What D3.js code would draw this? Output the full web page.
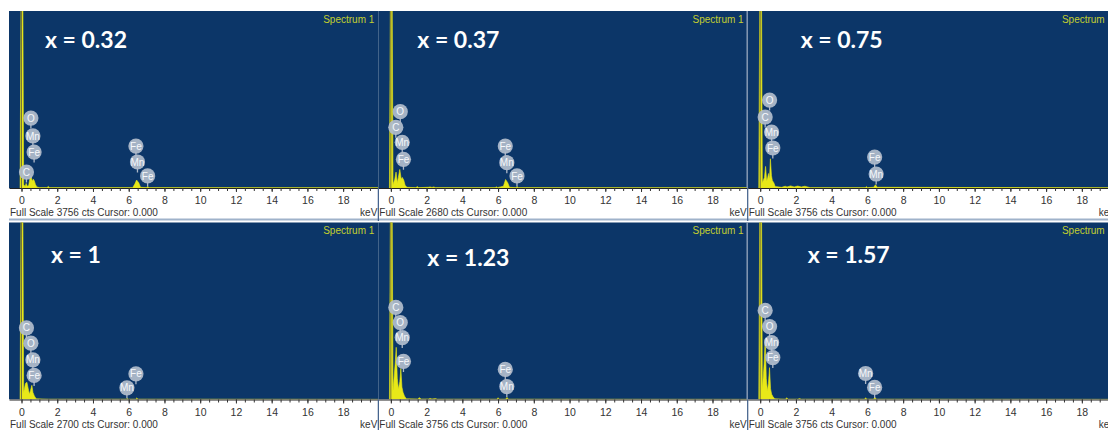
<!DOCTYPE html>
<html>
<head>
<meta charset="utf-8">
<script src="https://cdn.jsdelivr.net/npm/d3@7"></script>
<style>
    body { margin: 0; background: #fff; }
</style>
</head>
<body>
<div id="chart"></div>
<script>

// composition of each panel and the full scale counts shown under the axis
var panelNames = ["x = 0.32", "x = 0.37", "x = 0.75", "x = 1", "x = 1.23", "x = 1.57"];
var fullScale = [3756, 2680, 3756, 2700, 3756, 3756];
var tickLabels = [0, 2, 4, 6, 8, 10, 12, 14, 16, 18];

// spectra: [keV, fraction of full scale]
var spectrum1 = [[-0.08,0],[-0.02,1.2],[0.07,1.2],[0.12,0.02],[0.2,0.008],[0.26,0.026],[0.32,0.01],[0.4,0.014],[0.47,0.055],[0.53,0.07],[0.6,0.038],[0.66,0.05],[0.72,0.04],[0.78,0.02],[0.86,0.006],[1.0,0.002],[1.42,0.002],[1.5,0.009],[1.58,0.002],[6.22,0.002],[6.34,0.022],[6.44,0.045],[6.56,0.03],[6.66,0.004],[6.98,0.002],[7.06,0.008],[7.14,0.002],[19.97,0.001]];
var spectrum2 = [[-0.08,0],[-0.02,1.2],[0.07,1.2],[0.12,0.02],[0.22,0.05],[0.29,0.09],[0.36,0.03],[0.42,0.06],[0.5,0.105],[0.58,0.05],[0.64,0.06],[0.72,0.045],[0.8,0.015],[0.9,0.004],[1.4,0.002],[1.48,0.008],[1.56,0.002],[2.1,0.004],[2.2,0.006],[2.3,0.003],[2.4,0.006],[2.5,0.002],[5.84,0.002],[5.9,0.007],[5.96,0.002],[6.3,0.01],[6.42,0.048],[6.54,0.03],[6.64,0.004],[7.0,0.002],[7.06,0.008],[7.12,0.002],[19.97,0.001]];
var spectrum3 = [[-0.08,0],[-0.02,1.2],[0.07,1.2],[0.12,0.03],[0.24,0.06],[0.3,0.122],[0.36,0.04],[0.42,0.06],[0.47,0.082],[0.52,0.05],[0.57,0.165],[0.63,0.07],[0.68,0.042],[0.76,0.03],[0.84,0.008],[1.2,0.004],[1.4,0.01],[1.5,0.006],[1.7,0.012],[1.9,0.006],[2.1,0.011],[2.3,0.006],[2.5,0.01],[2.8,0.002],[5.88,0.002],[5.94,0.008],[6.0,0.002],[6.35,0.004],[6.45,0.018],[6.55,0.004],[19.97,0.001]];
var spectrum4 = [[-0.08,0],[-0.02,1.2],[0.07,1.2],[0.12,0.04],[0.22,0.09],[0.3,0.098],[0.38,0.06],[0.44,0.03],[0.5,0.05],[0.58,0.08],[0.64,0.04],[0.72,0.02],[0.82,0.004],[1.5,0.002],[5.86,0.002],[5.92,0.006],[5.98,0.002],[6.38,0.002],[6.45,0.009],[6.52,0.002],[19.97,0.001]];
var spectrum5 = [[-0.08,0],[-0.02,1.2],[0.07,1.2],[0.12,0.05],[0.24,0.2],[0.3,0.295],[0.36,0.12],[0.42,0.06],[0.5,0.1],[0.56,0.175],[0.62,0.07],[0.68,0.041],[0.76,0.02],[0.86,0.004],[1.5,0.003],[1.6,0.01],[1.7,0.003],[2.1,0.003],[2.2,0.006],[2.3,0.003],[2.5,0.005],[2.6,0.002],[5.94,0.002],[6.0,0.01],[6.06,0.002],[6.42,0.002],[6.5,0.012],[6.58,0.002],[19.97,0.001]];
var spectrum6 = [[-0.08,0],[-0.02,1.2],[0.07,1.2],[0.12,0.06],[0.22,0.2],[0.28,0.343],[0.34,0.12],[0.4,0.05],[0.46,0.09],[0.52,0.18],[0.58,0.06],[0.64,0.03],[0.72,0.015],[0.82,0.004],[1.42,0.002],[1.48,0.01],[1.56,0.002],[2.1,0.002],[2.2,0.005],[2.3,0.002],[5.84,0.002],[5.9,0.01],[5.96,0.002],[6.34,0.002],[6.42,0.012],[6.5,0.002],[19.97,0.001]];

// peak labels: [element, keV, height as fraction of full scale]
var labels1 = [["O",0.525,0.395],["Mn",0.637,0.294],["Fe",0.705,0.203],["C",0.277,0.09],["Fe",6.404,0.237],["Mn",6.49,0.147],["Fe",7.058,0.068]];
var labels2 = [["O",0.525,0.431],["C",0.277,0.343],["Mn",0.637,0.258],["Fe",0.705,0.162],["Fe",6.404,0.237],["Mn",6.49,0.143],["Fe",7.058,0.068]];
var labels3 = [["O",0.525,0.497],["C",0.277,0.401],["Mn",0.637,0.316],["Fe",0.705,0.226],["Fe",6.404,0.175],["Mn",6.49,0.079]];
var labels4 = [["C",0.277,0.405],["O",0.525,0.318],["Mn",0.637,0.224],["Fe",0.705,0.136],["Fe",6.404,0.145],["Mn",5.899,0.066]];
var labels5 = [["C",0.277,0.52],["O",0.525,0.435],["Mn",0.637,0.35],["Fe",0.705,0.215],["Fe",6.404,0.17],["Mn",6.49,0.073]];
var labels6 = [["C",0.277,0.503],["O",0.525,0.412],["Mn",0.637,0.322],["Fe",0.705,0.237],["Mn",5.899,0.147],["Fe",6.404,0.068]];

var spectra = [spectrum1, spectrum2, spectrum3, spectrum4, spectrum5, spectrum6];
var peakLabels = [labels1, labels2, labels3, labels4, labels5, labels6];

// layout only
var svgWidth = 1108;
var svgHeight = 430;
var panelW = 369.35;
var plotH = 177;
var axisH = 33;
var rowTop = [11, 222.5];
var titlePos = [[36, 36.7], [39, 36.7], [53, 36.7], [42, 40.2], [49, 43.5], [60, 40.5]];

var svg = d3.select("#chart").append("svg")
    .attr("width", svgWidth)
    .attr("height", svgHeight)
    .style("display", "block")
    .style("font-family", "Arial, 'Liberation Sans', sans-serif");

var x = d3.scaleLinear().domain([-0.7, 19.97]).range([0, panelW]);
var y = d3.scaleLinear().domain([0, 1]).range([plotH, 0]);

var area = d3.area()
    .x(function(d) { return x(d[0]); })
    .y0(y(0))
    .y1(function(d) { return y(d[1]); });

var minorTicks = d3.range(0, 20, 0.5);

function drawPanel(i) {
    var col = i % 3;
    var row = Math.floor(i / 3);
    var left = 9 + col * panelW;
    var top = rowTop[row];

    var g = svg.append("g")
        .attr("transform", "translate(" + left + "," + top + ")");

    g.append("clipPath").attr("id", "clip" + i)
        .append("rect").attr("width", panelW).attr("height", plotH);

    g.append("rect")
        .attr("width", panelW)
        .attr("height", plotH)
        .attr("fill", "#0c3668");

    var plot = g.append("g").attr("clip-path", "url(#clip" + i + ")");

    plot.append("path")
        .datum(spectra[i])
        .attr("d", area)
        .attr("fill", "#e8e818")
        .attr("stroke", "#e8e818")
        .attr("stroke-width", 0.6);

    // cursor at 0.000 keV
    plot.append("line")
        .attr("x1", x(0)).attr("x2", x(0))
        .attr("y1", 0).attr("y2", plotH)
        .attr("stroke", "#76763a")
        .attr("stroke-width", 1);

    // peak badges
    var lab = plot.selectAll(".peak")
        .data(peakLabels[i])
        .enter().append("g")
        .attr("class", "peak")
        .attr("transform", function(d) { return "translate(" + x(d[1]) + "," + y(d[2]) + ")"; });
    lab.append("line")
        .attr("y1", 6).attr("y2", 10.5)
        .attr("stroke", "#aeb8c8")
        .attr("stroke-width", 1.3);
    lab.append("circle")
        .attr("r", 7.6)
        .attr("fill", "#b2bccc")
        .attr("fill-opacity", 0.93);
    lab.append("text")
        .attr("dy", "0.36em")
        .attr("text-anchor", "middle")
        .attr("font-size", 10)
        .attr("fill", "#f6f8fb")
        .text(function(d) { return d[0]; });

    g.append("text")
        .attr("x", panelW - 4)
        .attr("y", 11.5)
        .attr("text-anchor", "end")
        .attr("font-size", 10)
        .attr("fill", "#c3cf2f")
        .text("Spectrum 1");

    g.append("text")
        .attr("x", titlePos[i][0])
        .attr("y", titlePos[i][1])
        .attr("font-family", "Lato, 'Open Sans', sans-serif")
        .attr("font-weight", "bold")
        .attr("font-size", 23)
        .attr("fill", "#ffffff")
        .text(panelNames[i]);

    // axis band
    var band = g.append("g").attr("transform", "translate(0," + plotH + ")");
    band.append("rect")
        .attr("width", panelW)
        .attr("height", axisH)
        .attr("fill", "#ffffff");

    band.append("g")
        .call(d3.axisBottom(x).tickValues(minorTicks).tickSize(3).tickSizeOuter(0).tickFormat(""))
        .call(function(a) {
            a.select(".domain").attr("stroke", "#222");
            a.selectAll(".tick line").attr("stroke", "#333");
        });
    band.append("g")
        .call(d3.axisBottom(x).tickValues(tickLabels).tickSize(4).tickPadding(5).tickSizeOuter(0))
        .call(function(a) {
            a.select(".domain").remove();
            a.selectAll(".tick line").attr("stroke", "#333");
            a.selectAll(".tick text")
                .attr("font-size", 10.5)
                .attr("font-family", "Arial, 'Liberation Sans', sans-serif")
                .attr("fill", "#333");
        });

    band.append("text")
        .attr("x", 1)
        .attr("y", 28.3)
        .attr("font-size", 10)
        .attr("fill", "#333")
        .text("Full Scale " + fullScale[i] + " cts Cursor: 0.000");
    band.append("text")
        .attr("x", panelW - 1)
        .attr("y", 28.3)
        .attr("text-anchor", "end")
        .attr("font-size", 10)
        .attr("fill", "#333")
        .text("keV");

    band.append("line")
        .attr("x1", 0).attr("x2", panelW)
        .attr("y1", axisH - 1.5).attr("y2", axisH - 1.5)
        .attr("stroke", "#9fb2ca")
        .attr("stroke-width", 2);

    if (col > 0) {
        band.append("line")
            .attr("x1", 0).attr("x2", 0)
            .attr("y1", 0).attr("y2", axisH)
            .attr("stroke", "#3d5c88")
            .attr("stroke-width", 1.2);
    }
    if (col == 2) {
        g.append("line")
            .attr("x1", -0.5).attr("x2", -0.5)
            .attr("y1", 0).attr("y2", plotH)
            .attr("stroke", "#8497b2")
            .attr("stroke-width", 1.5);
    }
}

for (var i = 0; i < 6; i++) drawPanel(i);

</script>
</body>
</html>
